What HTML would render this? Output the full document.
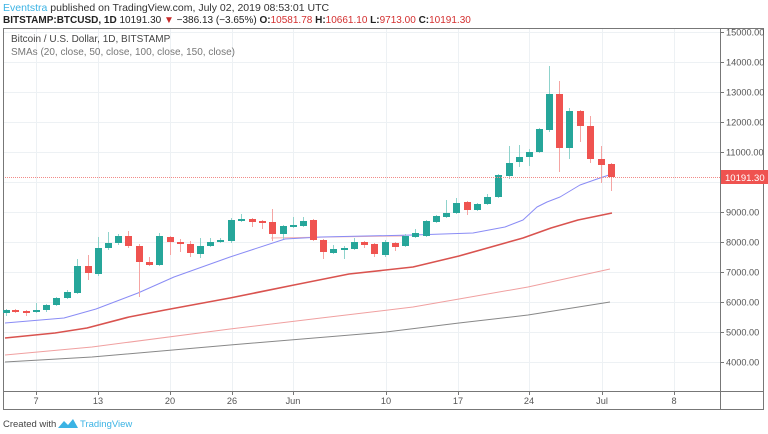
<!DOCTYPE html>
<html><head><meta charset="utf-8"><style>
html,body{margin:0;padding:0;background:#fff;width:768px;height:434px;overflow:hidden;font-family:"Liberation Sans",sans-serif}
svg{position:absolute;left:0;top:0}
</style></head><body>
<svg id="s" width="768" height="434" xmlns="http://www.w3.org/2000/svg" font-family="Liberation Sans, sans-serif">
<text x="3" y="11" font-size="10.5" fill="#333"><tspan fill="#3bb3e4">Eventstra</tspan> published on TradingView.com, July 02, 2019 08:53:01 UTC</text>
<text x="3" y="23" font-size="10" fill="#222"><tspan font-weight="bold">BITSTAMP:BTCUSD, 1D</tspan> 10191.30 <tspan fill="#c62828">▼</tspan> −386.13 (−3.65%) <tspan font-weight="bold">O:</tspan><tspan fill="#d32f2f">10581.78</tspan> <tspan font-weight="bold">H:</tspan><tspan fill="#d32f2f">10661.10</tspan> <tspan font-weight="bold">L:</tspan><tspan fill="#d32f2f">9713.00</tspan> <tspan font-weight="bold">C:</tspan><tspan fill="#d32f2f">10191.30</tspan></text>
<g id="grid" stroke="#edf1f4" stroke-width="1"></g>
<rect x="3.5" y="28.5" width="760" height="381" fill="none" stroke="#777" stroke-width="1"/>
<line x1="720.5" y1="28" x2="720.5" y2="410" stroke="#777"/>
<line x1="3" y1="391.5" x2="764" y2="391.5" stroke="#777"/>
<text x="11" y="42" font-size="10" fill="#444">Bitcoin / U.S. Dollar, 1D, BITSTAMP</text>
<text x="11" y="55" font-size="10" fill="#777">SMAs (20, close, 50, close, 100, close, 150, close)</text>
<g id="lines" fill="none" stroke-linejoin="round"></g>
<g id="candles"></g>
<line x1="5" y1="177.5" x2="720" y2="177.5" stroke="#f28b88" stroke-dasharray="1,1" stroke-width="1"/>
<g id="axis" font-size="9.2" fill="#555"></g>
<rect x="721" y="170" width="47" height="14" fill="#ef5350"/>
<text x="725" y="181" font-size="9.5" fill="#fff">10191.30</text>
<text x="3" y="427" font-size="9.5" fill="#444">Created with</text>
<path d="M58 428 l6 -7 l4 4 l5 -6 l5 9 z" fill="#3bb3e4"/>
<text x="80" y="427" font-size="9.5" fill="#3bb3e4">TradingView</text>
</svg>
<script>
var NS="http://www.w3.org/2000/svg";
function el(p,t,a,txt){var e=document.createElementNS(NS,t);for(var k in a)e.setAttribute(k,a[k]);if(txt)e.textContent=txt;document.getElementById(p).appendChild(e);}
for(var p=15000;p>=4000;p-=1000){var y=32+(15000-p)*0.03;el("grid","line",{x1:4,x2:720,y1:y+0.5,y2:y+0.5});
 el("axis","line",{x1:720,x2:724,y1:y+0.5,y2:y+0.5,stroke:"#777"});
 if(p!=10000)el("axis","text",{x:726,y:y+3.5},p+".00");}
var xt=[[36,"7"],[98,"13"],[170,"20"],[232,"26"],[293,"Jun"],[386,"10"],[458,"17"],[529,"24"],[602,"Jul"],[674,"8"]];
xt.forEach(function(t){el("grid","line",{x1:t[0]+.5,x2:t[0]+.5,y1:29,y2:391});
 el("axis","line",{x1:t[0]+.5,x2:t[0]+.5,y1:391,y2:395,stroke:"#777"});
 el("axis","text",{x:t[0],y:404,"text-anchor":"middle"},t[1]);});
function pl(pts,c,w){el("lines","polyline",{points:pts,stroke:c,"stroke-width":w});}
pl("5,362 92,357 230,345 386,332 459,323 528,315 610,302","#888",1);
pl("5,355 92,347 230,329 321,318 413,307 459,299 528,287 610,269","#f0a0a0",1);
pl("271,238 330,237 404,236","#f4b4b4",1);
pl("5,338 55,333 87,328 129,317 165,310 230,298 294,285 349,274 413,267 459,256 523,238 551,228 578,220 612,213","#d9534f",1.6);
pl("5,323 64,318 96,309 138,293 174,277 230,257 285,239 321,237 413,235 473,233 505,227 523,220 537,207 547,202 560,197 580,185 600,178 612,174","#8a8cf5",1);
var C=[[6,313,310,309,316],[15,310,312,309,313],[26,311,313,310,316],[36,312,310,303,313],[46,310,305,304,312],[56,305,298,297,306],
[67,298,292,290,299],[77,293,266,259,294],[88,266,273,255,280],[98,274,248,237,276],[108,248,243,232,250],[118,243,236,234,245],
[128,236,246,231,248],[139,246,262,244,297],[149,262,265,257,266],[159,265,236,233,266],[170,237,242,236,255],[180,242,244,239,252],
[190,244,253,241,257],[200,254,246,238,258],[210,246,242,238,247],[220,242,240,238,243],[231,241,220,218,243],[241,221,219,214,222],
[252,219,222,218,227],[262,221,223,220,229],[272,222,234,209,241],[283,234,226,225,239],[293,227,225,217,228],[303,226,221,217,227],
[313,220,240,219,241],[323,240,252,239,259],[333,253,249,245,254],[344,250,248,246,259],[354,249,242,238,250],[364,242,245,241,248],
[374,244,254,243,257],[385,255,242,240,257],[395,243,247,242,251],[405,246,236,234,247],[415,237,233,229,238],[426,236,221,220,237],
[436,222,216,215,223],[446,217,213,200,218],[456,213,203,198,214],[467,202,210,201,215],[477,210,204,203,211],[487,204,197,194,205],
[498,197,175,174,198],[509,176,163,146,179],[519,162,157,145,167],[529,157,152,149,166],[539,152,129,128,153],[549,130,94,66,132],
[559,94,148,81,172],[569,148,111,108,159],[580,111,126,110,142],[590,126,159,116,163],[601,159,165,146,183],[611,164,177,163,191]];
C.forEach(function(c){var up=c[2]<c[1],col=up?"#26a69a":"#ef5350",wc=up?"#8fd3cc":"#f5a5a3";
 el("candles","line",{x1:c[0]+.5,x2:c[0]+.5,y1:c[3],y2:c[4],stroke:wc,"stroke-width":1});
 var t=Math.min(c[1],c[2]),h=Math.max(2,Math.abs(c[1]-c[2]));
 el("candles","rect",{x:c[0]-3,y:t,width:7,height:h,fill:col});});
</script>
</body></html>
